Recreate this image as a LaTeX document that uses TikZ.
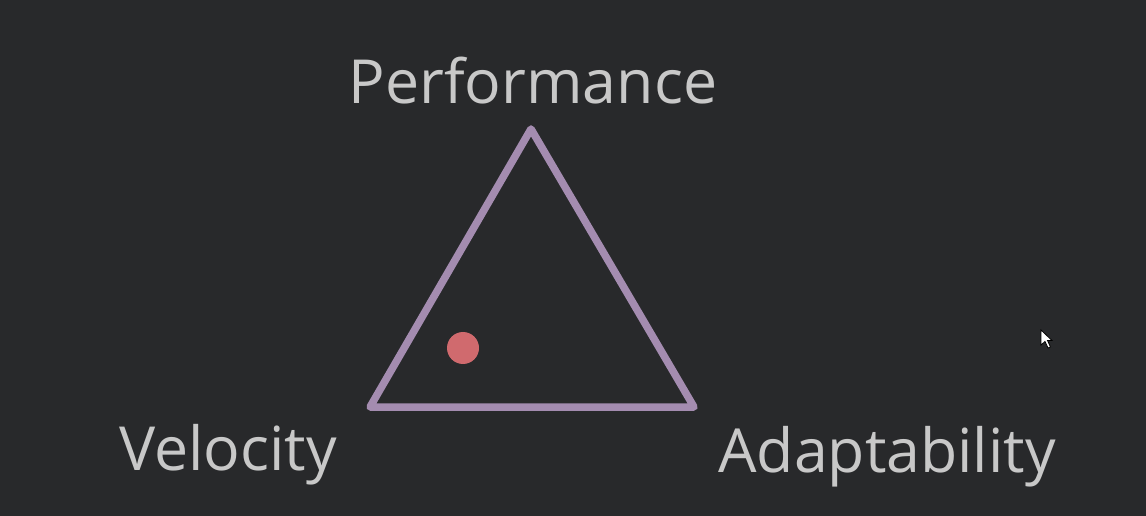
\documentclass[tikz,border=0pt]{standalone}
\usepackage{fontspec}
\setmainfont{Open Sans}
\definecolor{bg}{HTML}{28292B}
\definecolor{txt}{HTML}{C8C8C8}
\definecolor{tri}{HTML}{A48CB0}
\definecolor{dot}{HTML}{D06A6E}
\begin{document}
\begin{tikzpicture}[x=1bp,y=-1bp,
  label/.style={text=txt,font=\fontsize{61}{67}\selectfont,inner sep=0pt,anchor=base}]
\fill[bg] (0,0) rectangle (1146,516);
\useasboundingbox (0,0) rectangle (1146,516);
\coordinate (P) at (531,129);
\coordinate (V) at (370,407);
\coordinate (A) at (694,407);
\draw[tri,line width=7.5bp,line join=round,line cap=round] (P) -- (V) -- (A) -- cycle;
\fill[dot] (463,348) circle (16);
\node[label] (perf) at (533,104) {Performance};
\node[label] (vel) at (228,470) {Velocity};
\node[label] (adapt) at (887,472) {Adaptability};
\draw[fill=white,draw=black,line width=0.8bp] (1041,330) -- (1041,345) -- (1045,341.5) -- (1048,348) -- (1050.5,347) -- (1047.5,340.5) -- (1052,340.5) -- cycle;
\end{tikzpicture}
\end{document}
